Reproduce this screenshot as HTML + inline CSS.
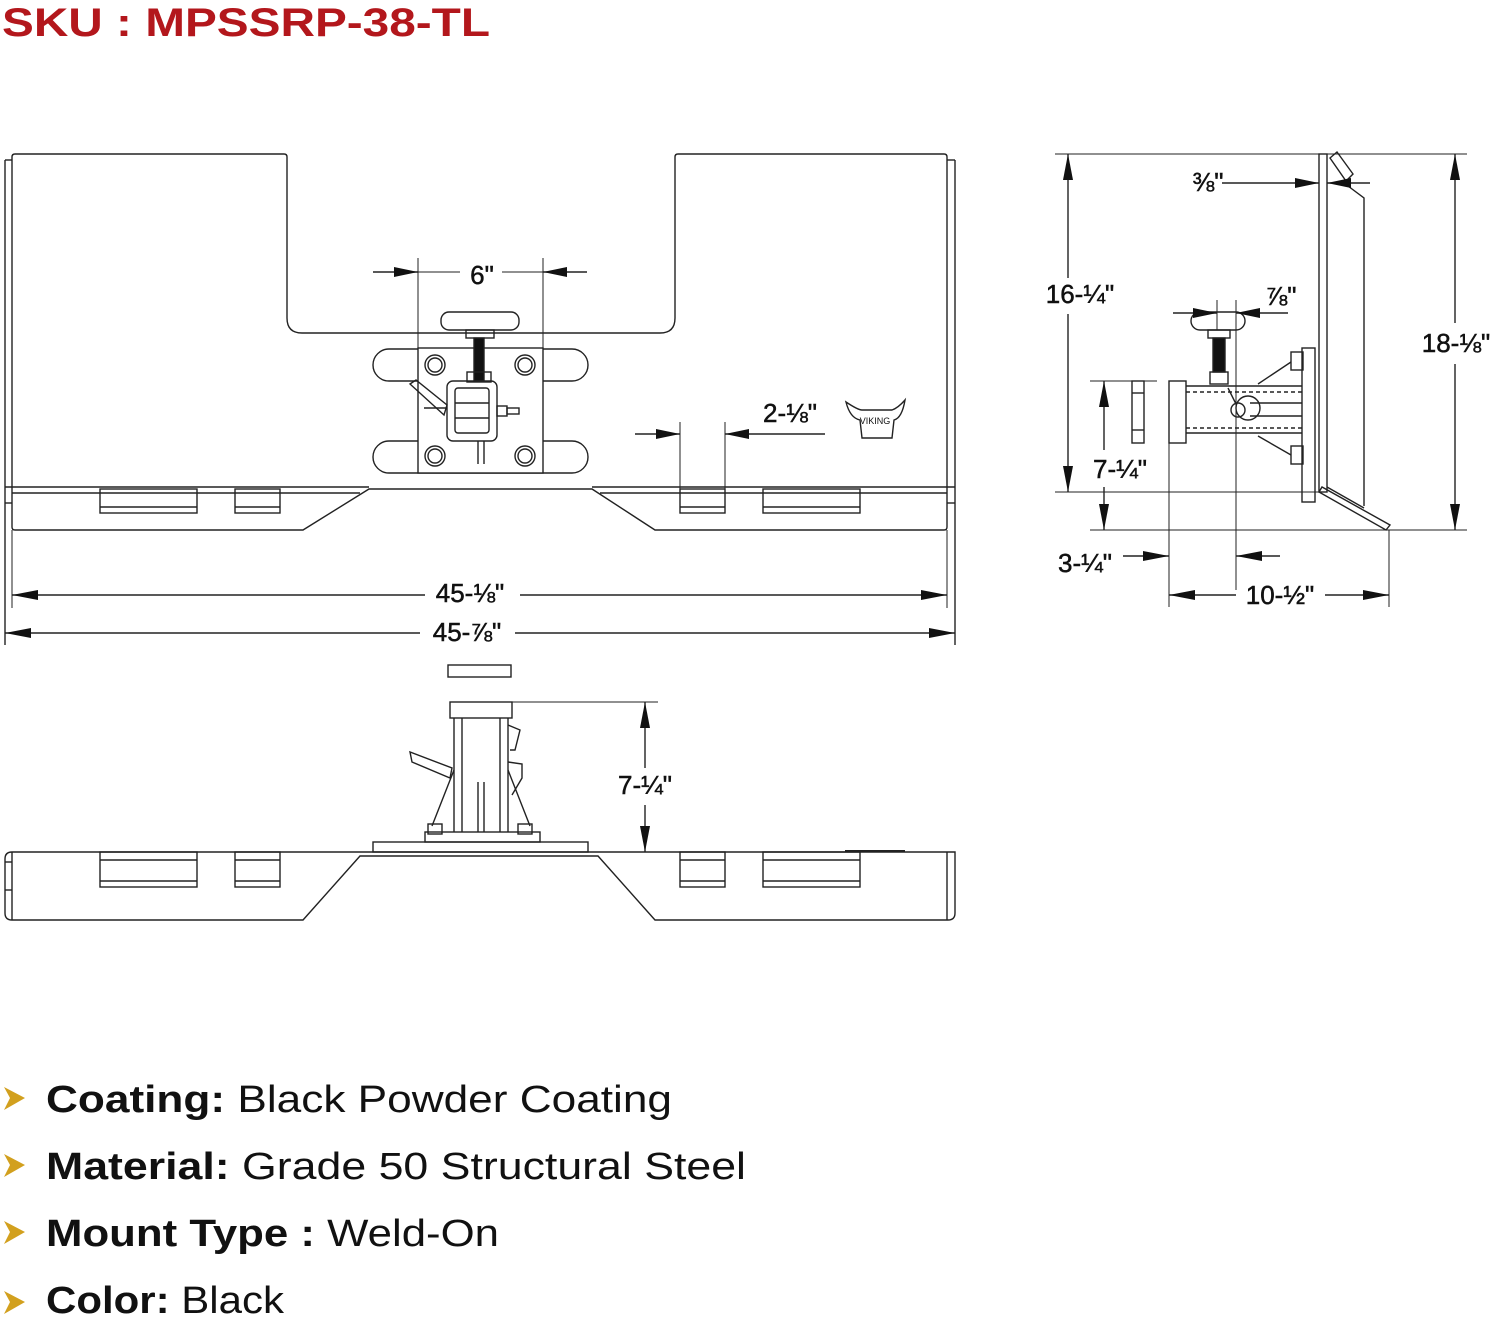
<!DOCTYPE html>
<html><head><meta charset="utf-8"><style>
html,body{margin:0;padding:0;background:#fff;}
svg{display:block}
text{font-family:"Liberation Sans",sans-serif;}
</style></head><body>
<svg width="1500" height="1324" viewBox="0 0 1500 1324" xmlns="http://www.w3.org/2000/svg">
<defs>
<marker id="a" viewBox="0 0 24 10" refX="24" refY="5" markerWidth="24" markerHeight="10" orient="auto-start-reverse" markerUnits="userSpaceOnUse"><path d="M0,0 L24,5 L0,10 z" fill="#111"/></marker>
<marker id="b" viewBox="0 0 26 10" refX="26" refY="5" markerWidth="26" markerHeight="10" orient="auto-start-reverse" markerUnits="userSpaceOnUse"><path d="M0,0 L26,5 L0,10 z" fill="#111"/></marker>
</defs>
<rect width="1500" height="1324" fill="#fff"/>
<text x="2" y="36" font-size="40" font-weight="bold" fill="#b3171c" textLength="488" lengthAdjust="spacingAndGlyphs">SKU : MPSSRP-38-TL</text>

<g fill="none" stroke="#222" stroke-width="1.4">
<!-- FRONT VIEW -->
<path d="M12,157 Q12,154 15,154 L284,154 Q287,154 287,157 L287,318 Q287,333 302,333 L660,333 Q675,333 675,318 L675,157 Q675,154 678,154 L944,154 Q947,154 947,157 L947,527 Q947,530 944,530 L655,530 L592,489 L369,489 L303,530 L15,530 Q12,530 12,527 Z"/>
<line x1="5" y1="160" x2="5" y2="645"/><line x1="955" y1="160" x2="955" y2="645"/>
<line x1="5" y1="160" x2="12" y2="160"/><line x1="947" y1="160" x2="955" y2="160"/>
<line x1="5" y1="487" x2="369" y2="487"/><line x1="592" y1="487" x2="955" y2="487"/>
<line x1="12" y1="503" x2="5" y2="503"/><line x1="947" y1="503" x2="955" y2="503"/>
<line x1="12" y1="493" x2="360" y2="493"/><line x1="600" y1="493" x2="947" y2="493"/>
<rect x="100" y="489" width="97" height="24"/><line x1="100" y1="507" x2="197" y2="507"/>
<rect x="235" y="489" width="45" height="24"/><line x1="235" y1="507" x2="280" y2="507"/>
<rect x="680" y="489" width="45" height="24"/><line x1="680" y1="507" x2="725" y2="507"/>
<rect x="763" y="489" width="97" height="24"/><line x1="763" y1="507" x2="860" y2="507"/>
<!-- mount -->
<rect x="373" y="349" width="215" height="32" rx="16"/>
<rect x="373" y="441" width="215" height="32" rx="16"/>
<rect x="418" y="348" width="125" height="125" fill="#fff"/>
<circle cx="435" cy="365" r="10"/><circle cx="435" cy="365" r="7"/>
<circle cx="525" cy="365" r="10"/><circle cx="525" cy="365" r="7"/>
<circle cx="435" cy="456" r="10"/><circle cx="435" cy="456" r="7"/>
<circle cx="525" cy="456" r="10"/><circle cx="525" cy="456" r="7"/>
<rect x="441" y="312" width="78" height="18" rx="8"/>
<rect x="466" y="330" width="28" height="8"/>
<rect x="474" y="338" width="10" height="43" fill="#111"/>
<rect x="467" y="372" width="24" height="10"/>
<rect x="447" y="381" width="50" height="60" rx="6"/>
<rect x="455" y="388" width="34" height="45" rx="3"/>
<line x1="455" y1="403" x2="489" y2="403"/><line x1="455" y1="418" x2="489" y2="418"/>
<line x1="478" y1="441" x2="478" y2="464"/><line x1="484" y1="441" x2="484" y2="464"/>
<path d="M410,384 L416,380 L447,405 L444,415 Z"/>
<line x1="424" y1="408" x2="447" y2="408"/>
<rect x="497" y="406" width="10" height="10"/><rect x="507" y="408" width="12" height="6"/>
<!-- front dims -->
<line x1="418" y1="258" x2="418" y2="348" stroke-width="1"/><line x1="543" y1="258" x2="543" y2="348" stroke-width="1"/>
<line x1="373" y1="272" x2="418" y2="272" marker-end="url(#a)"/><line x1="587" y1="272" x2="543" y2="272" marker-end="url(#a)"/>
<line x1="418" y1="272" x2="460" y2="272" stroke-width="1"/><line x1="502" y1="272" x2="543" y2="272" stroke-width="1"/>
<line x1="680" y1="422" x2="680" y2="489" stroke-width="1"/><line x1="725" y1="422" x2="725" y2="489" stroke-width="1"/>
<line x1="635" y1="434" x2="680" y2="434" marker-end="url(#a)"/><line x1="825" y1="434" x2="725" y2="434" marker-end="url(#a)"/>
<line x1="12" y1="595" x2="425" y2="595" marker-start="url(#b)"/><line x1="520" y1="595" x2="947" y2="595" marker-end="url(#b)"/>
<line x1="5" y1="633" x2="420" y2="633" marker-start="url(#b)"/><line x1="515" y1="633" x2="955" y2="633" marker-end="url(#b)"/>
<line x1="12" y1="530" x2="12" y2="608" stroke-width="1"/><line x1="947" y1="530" x2="947" y2="608" stroke-width="1"/>
<!-- logo -->
<path d="M846,402 Q858,410 862,410 L892,410 Q898,408 905,400 Q902,418 894,420 L892,438 L862,438 L860,420 Q850,418 846,402 Z"/>

<!-- BOTTOM VIEW -->
<path d="M12,852 L360,852 L373,852 L588,852 L955,852 L955,913 Q955,920 948,920 L655,920 L598,856 L360,856 L303,920 L12,920 Q5,920 5,913 L5,859 Q5,852 12,852 Z"/>
<line x1="12" y1="852" x2="12" y2="920"/><line x1="947" y1="852" x2="947" y2="920"/>
<line x1="5" y1="862" x2="12" y2="862"/><line x1="5" y1="890" x2="12" y2="890"/>
<rect x="100" y="852" width="97" height="35"/><line x1="100" y1="860" x2="197" y2="860"/><line x1="100" y1="881" x2="197" y2="881"/>
<rect x="235" y="852" width="45" height="35"/><line x1="235" y1="860" x2="280" y2="860"/><line x1="235" y1="881" x2="280" y2="881"/>
<rect x="680" y="852" width="45" height="35"/><line x1="680" y1="860" x2="725" y2="860"/><line x1="680" y1="881" x2="725" y2="881"/>
<rect x="763" y="852" width="97" height="35"/><line x1="763" y1="860" x2="860" y2="860"/><line x1="763" y1="881" x2="860" y2="881"/>
<line x1="845" y1="851" x2="905" y2="851" stroke-width="2"/>
<rect x="373" y="842" width="215" height="10"/>
<rect x="425" y="832" width="115" height="10"/>
<rect x="450" y="702" width="62" height="16"/>
<line x1="454" y1="718" x2="454" y2="832"/><line x1="508" y1="718" x2="508" y2="832"/>
<line x1="462" y1="718" x2="462" y2="832"/><line x1="500" y1="718" x2="500" y2="832"/>
<line x1="478" y1="782" x2="478" y2="832"/><line x1="484" y1="782" x2="484" y2="832"/>
<rect x="448" y="665" width="63" height="12"/>
<path d="M410,752 L412,762 L450,778 L452,768 Z"/>
<path d="M508,725 L520,730 L515,750 L510,750"/>
<path d="M508,762 L522,764 L522,778 L512,795"/>
<line x1="454" y1="770" x2="432" y2="826"/><line x1="508" y1="770" x2="530" y2="826"/>
<rect x="428" y="824" width="14" height="10"/><rect x="518" y="824" width="14" height="10"/>
<line x1="512" y1="702" x2="658" y2="702" stroke-width="1"/>
<line x1="645" y1="702" x2="645" y2="768" marker-start="url(#b)"/><line x1="645" y1="805" x2="645" y2="852" marker-end="url(#b)"/>

<!-- SIDE VIEW -->
<rect x="1319" y="154" width="8" height="338"/>
<path d="M1330,158 L1337,152 L1353,174 L1346,181 Z"/>
<path d="M1344,183 L1364,198 L1364,506"/>
<path d="M1319,492 L1322,487 L1390,525 L1386,530 Z"/>
<line x1="1327" y1="487" x2="1364" y2="508"/>
<rect x="1302" y="348" width="13" height="154"/>
<rect x="1291" y="352" width="12" height="18"/><rect x="1291" y="446" width="12" height="18"/>
<line x1="1258" y1="384" x2="1291" y2="362"/><line x1="1258" y1="436" x2="1291" y2="455"/>
<rect x="1169" y="381" width="17" height="62"/>
<line x1="1186" y1="386" x2="1302" y2="386"/><line x1="1186" y1="433" x2="1302" y2="433"/>
<line x1="1186" y1="392" x2="1302" y2="392" stroke-dasharray="4 3"/><line x1="1186" y1="428" x2="1302" y2="428" stroke-dasharray="4 3"/>
<line x1="1250" y1="403" x2="1302" y2="403"/><line x1="1250" y1="416" x2="1302" y2="416"/>
<circle cx="1248" cy="408" r="12"/><circle cx="1238" cy="410" r="7"/>
<line x1="1228" y1="388" x2="1236" y2="404"/>
<rect x="1132" y="381" width="12" height="62"/><line x1="1132" y1="393" x2="1144" y2="393"/><line x1="1132" y1="430" x2="1144" y2="430"/>
<rect x="1191" y="312" width="54" height="18" rx="9"/>
<rect x="1208" y="330" width="22" height="8"/>
<rect x="1213" y="338" width="12" height="34" fill="#111"/>
<rect x="1210" y="372" width="18" height="12"/>
<!-- side dims -->
<g stroke-width="1">
<line x1="1055" y1="154" x2="1467" y2="154"/>
<line x1="1055" y1="492" x2="1320" y2="492"/>
<line x1="1090" y1="530" x2="1467" y2="530"/>
<line x1="1090" y1="381" x2="1157" y2="381"/>
<line x1="1217" y1="300" x2="1217" y2="330"/><line x1="1236" y1="300" x2="1236" y2="590"/>
<line x1="1169" y1="443" x2="1169" y2="607"/><line x1="1389" y1="530" x2="1389" y2="607"/>
</g>
<line x1="1068" y1="154" x2="1068" y2="278" marker-start="url(#b)"/><line x1="1068" y1="314" x2="1068" y2="492" marker-end="url(#b)"/>
<line x1="1455" y1="154" x2="1455" y2="323" marker-start="url(#b)"/><line x1="1455" y1="364" x2="1455" y2="530" marker-end="url(#b)"/>
<line x1="1104" y1="381" x2="1104" y2="450" marker-start="url(#b)"/><line x1="1104" y1="487" x2="1104" y2="530" marker-end="url(#b)"/>
<line x1="1222" y1="183" x2="1319" y2="183" marker-end="url(#a)"/><line x1="1370" y1="183" x2="1327" y2="183" marker-end="url(#a)"/>
<line x1="1173" y1="313" x2="1217" y2="313" marker-end="url(#a)"/><line x1="1288" y1="313" x2="1236" y2="313" marker-end="url(#a)"/>
<line x1="1123" y1="556" x2="1169" y2="556" marker-end="url(#b)"/><line x1="1280" y1="556" x2="1236" y2="556" marker-end="url(#b)"/>
<line x1="1169" y1="595" x2="1236" y2="595" marker-start="url(#b)"/><line x1="1325" y1="595" x2="1389" y2="595" marker-end="url(#b)"/>
</g>

<g fill="#111" stroke="#111" stroke-width="0.5" font-size="26">
<text x="482" y="284" text-anchor="middle">6"</text>
<text x="790" y="422" text-anchor="middle">2-⅛"</text>
<text x="470" y="602" text-anchor="middle">45-⅛"</text>
<text x="467" y="641" text-anchor="middle">45-⅞"</text>
<text x="645" y="794" text-anchor="middle">7-¼"</text>
<text x="1080" y="303" text-anchor="middle">16-¼"</text>
<text x="1456" y="352" text-anchor="middle">18-⅛"</text>
<text x="1120" y="478" text-anchor="middle">7-¼"</text>
<text x="1208" y="191" text-anchor="middle">⅜"</text>
<text x="1281" y="305" text-anchor="middle">⅞"</text>
<text x="1085" y="572" text-anchor="middle">3-¼"</text>
<text x="1280" y="604" text-anchor="middle">10-½"</text>
</g>
<text x="875" y="424" font-size="9" fill="#111" text-anchor="middle">VIKING</text>

<g fill="#d2a01e">
<path d="M4,1087 L25,1098 L4,1110 L10,1098 Z"/>
<path d="M4,1154 L25,1165 L4,1177 L10,1165 Z"/>
<path d="M4,1221 L25,1232 L4,1244 L10,1232 Z"/>
<path d="M4,1291 L25,1302 L4,1314 L10,1302 Z"/>
</g>
<g fill="#111" font-size="38">
<text x="46" y="1112" textLength="626" lengthAdjust="spacingAndGlyphs"><tspan font-weight="bold">Coating:</tspan> Black Powder Coating</text>
<text x="46" y="1179" textLength="700" lengthAdjust="spacingAndGlyphs"><tspan font-weight="bold">Material:</tspan>  Grade 50 Structural Steel</text>
<text x="46" y="1246" textLength="453" lengthAdjust="spacingAndGlyphs"><tspan font-weight="bold">Mount Type :</tspan> Weld-On</text>
<text x="46" y="1313" textLength="238" lengthAdjust="spacingAndGlyphs"><tspan font-weight="bold">Color:</tspan> Black</text>
</g>
</svg>
</body></html>
